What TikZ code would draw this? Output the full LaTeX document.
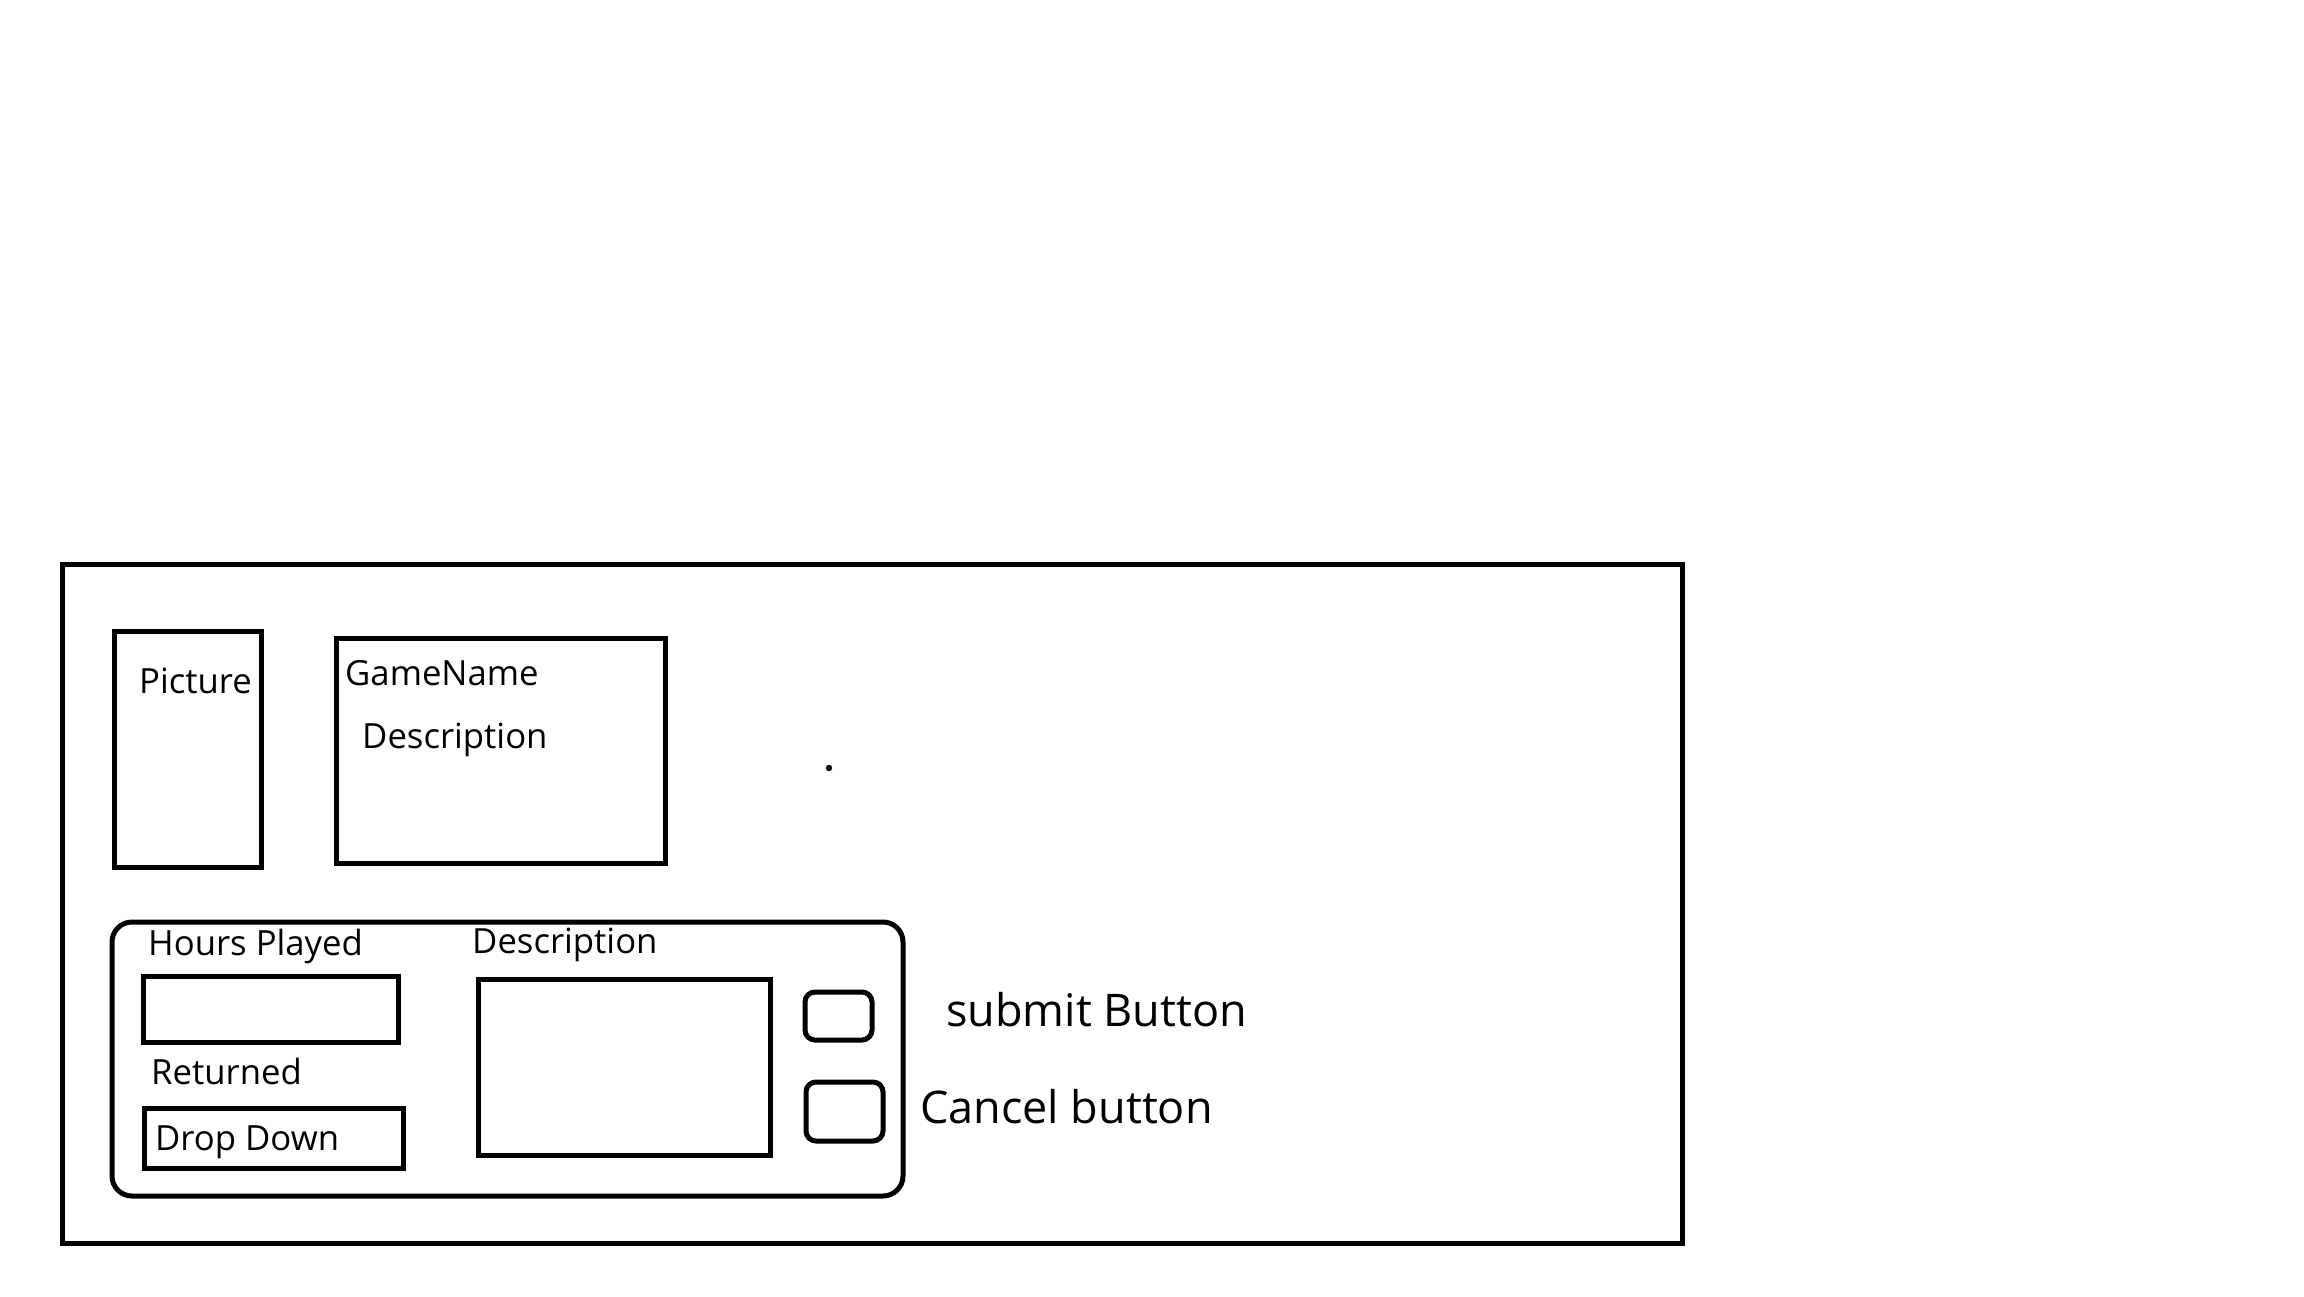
\documentclass[tikz,border=0pt]{standalone}
\usepackage{fontspec}
\setmainfont{Open Sans}
\begin{document}
\begin{tikzpicture}[x=1pt,y=-1pt,
  box/.style={draw=black,line width=5pt,rectangle,inner sep=0pt,outer sep=0pt,anchor=north west},
  rbox/.style={box,rounded corners=#1},
  lbl/.style={anchor=base west,inner sep=0pt,font=\fontsize{34.7}{40}\selectfont},
  biglbl/.style={anchor=base west,inner sep=0pt,font=\fontsize{45}{52}\selectfont}]
\useasboundingbox[fill=white] (0,0) rectangle (2304,1296);
% outer frame
\node (frame) [box,minimum width=1620pt,minimum height=679pt] at (62,564) {};
% top boxes
\node (picture) [box,minimum width=147pt,minimum height=236pt] at (114,631) {};
\node (game) [box,minimum width=329pt,minimum height=225pt] at (336,638) {};
\node (tPicture) [lbl] at (139,693) {Picture};
\node (tGame) [lbl] at (345,685) {GameName};
\node (tDesc1) [lbl] at (362,748) {Description};
% dot
\fill (829,768) circle (3.2pt);
\coordinate (dot) at (829,768);
% panel
\node (panel) [rbox=20pt,minimum width=791pt,minimum height=274pt] at (112,922) {};
\node (tHours) [lbl] at (148,955) {Hours Played};
\node (hours) [box,minimum width=255pt,minimum height=66pt] at (143,976) {};
\node (tRet) [lbl] at (151,1084) {Returned};
\node (drop) [box,minimum width=259pt,minimum height=60pt] at (144,1108) {};
\node (tDrop) [lbl] at (155,1150) {Drop Down};
\node (tDesc2) [lbl] at (472,953) {Description};
\node (desc) [box,minimum width=292pt,minimum height=176pt] at (478,979) {};
\node (submit) [rbox=10pt,minimum width=67pt,minimum height=48pt] at (805,992) {};
\node (cancel) [rbox=10pt,minimum width=77pt,minimum height=59pt] at (806,1082) {};
\node (tSubmit) [biglbl] at (946,1026) {submit Button};
\node (tCancel) [biglbl] at (920,1123) {Cancel button};
\end{tikzpicture}
\end{document}
